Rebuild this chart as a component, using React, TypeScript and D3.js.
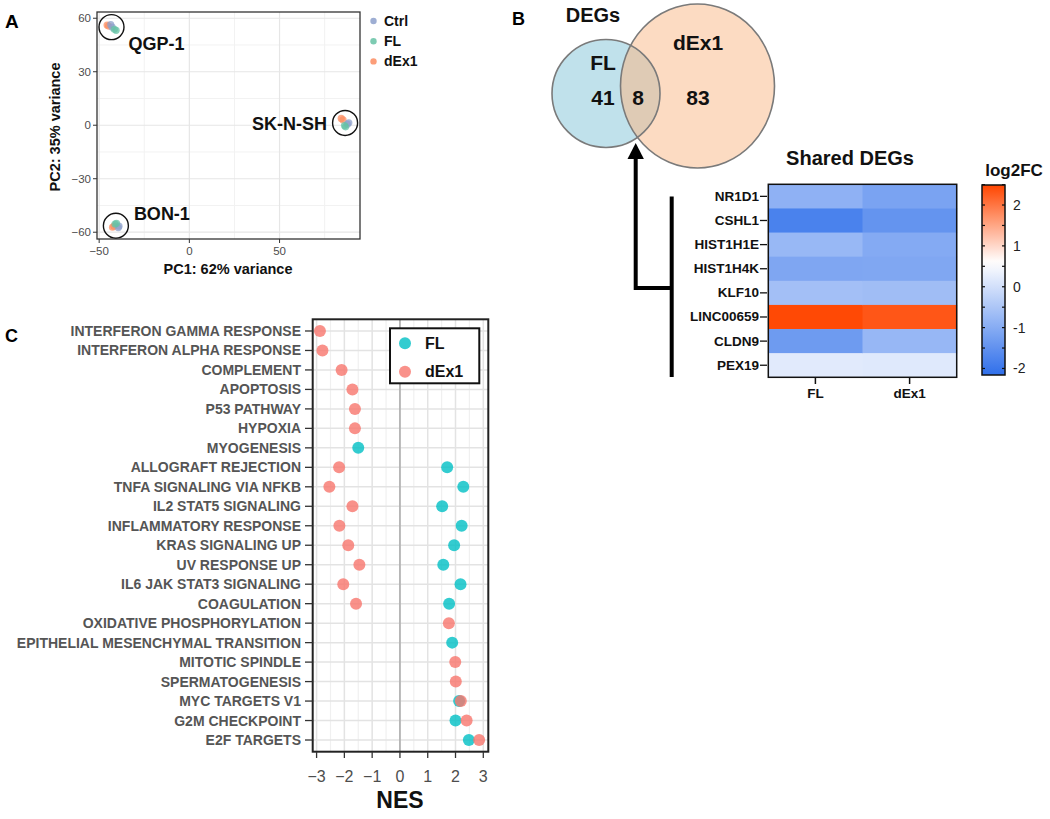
import React from "react";
import * as d3 from "d3";

// ---------- Panel A: PCA ----------
const pcaLines = ["QGP-1", "QGP-1", "QGP-1", "QGP-1", "QGP-1", "QGP-1", "SK-N-SH", "SK-N-SH", "SK-N-SH", "SK-N-SH", "SK-N-SH", "SK-N-SH", "BON-1", "BON-1", "BON-1", "BON-1", "BON-1", "BON-1"];
const pcaGroupOf = ["dEx1", "dEx1", "Ctrl", "Ctrl", "FL", "FL", "dEx1", "dEx1", "Ctrl", "Ctrl", "FL", "FL", "dEx1", "dEx1", "Ctrl", "Ctrl", "FL", "FL"];
const pcaPC1 = [-45.6, -44.8, -43.6, -42.8, -41.6, -40.6, 84.2, 85.2, 88.4, 87.6, 86.6, 86.0, -42.6, -41.8, -39.4, -39.0, -41.2, -40.4];
const pcaPC2 = [56.2, 55.6, 56.4, 55.0, 53.8, 53.2, 3.8, 3.0, 1.4, 0.6, -0.9, -0.2, -57.2, -56.6, -57.4, -56.6, -55.4, -55.0];
const pcaGroups = ["Ctrl", "FL", "dEx1"];
const pcaColors = ["#8da0cb", "#66c2a5", "#fc8d62"];
const pcaXTicks = [-50, 0, 50];
const pcaYTicks = [-60, -30, 0, 30, 60];

// ---------- Panel B: Venn + heatmap ----------
const vennSets = ["FL", "dEx1"];
const vennCounts = [41, 8, 83];
const heatGenes = ["NR1D1", "CSHL1", "HIST1H1E", "HIST1H4K", "KLF10", "LINC00659", "CLDN9", "PEX19"];
const heatConditions = ["FL", "dEx1"];
const heatFL = [-0.89, -1.8, -0.77, -1.1, -0.62, 2.45, -1.32, 0.2];
const heatDEx1 = [-1.17, -1.46, -1.03, -1.08, -0.66, 2.32, -0.78, 0.18];
const colorbarTicks = [2, 1, 0, -1, -2];

// ---------- Panel C: NES dot plot ----------
const pathways = [
  "INTERFERON GAMMA RESPONSE", "INTERFERON ALPHA RESPONSE", "COMPLEMENT", "APOPTOSIS", "P53 PATHWAY", "HYPOXIA",
  "MYOGENESIS", "ALLOGRAFT REJECTION", "TNFA SIGNALING VIA NFKB", "IL2 STAT5 SIGNALING", "INFLAMMATORY RESPONSE",
  "KRAS SIGNALING UP", "UV RESPONSE UP", "IL6 JAK STAT3 SIGNALING", "COAGULATION", "OXIDATIVE PHOSPHORYLATION",
  "EPITHELIAL MESENCHYMAL TRANSITION", "MITOTIC SPINDLE", "SPERMATOGENESIS", "MYC TARGETS V1", "G2M CHECKPOINT", "E2F TARGETS",
];
const nesFL: (number | null)[] = [null, null, null, null, null, null, -1.5, 1.7, 2.28, 1.52, 2.22, 1.95, 1.56, 2.18, 1.77, null, 1.88, null, null, 2.13, 2.0, 2.48];
const nesDEx1: (number | null)[] = [-2.88, -2.79, -2.1, -1.71, -1.62, -1.62, null, -2.19, -2.54, -1.71, -2.18, -1.86, -1.46, -2.04, -1.58, 1.76, null, 1.99, 2.01, 2.19, 2.4, 2.85];
const nesSeries = ["FL", "dEx1"];
const nesColors = ["#00bfc4", "#f8766d"];
const nesTicks = [-3, -2, -1, 0, 1, 2, 3];

const FONT = "'Liberation Sans', Arial, Helvetica, sans-serif";

function PanelA() {
  const x = d3.scaleLinear().domain([-51.2, 94.6]).range([97, 360]);
  const y = d3.scaleLinear().domain([-63.8, 63.5]).range([239, 12]);
  const color = d3.scaleOrdinal<string, string>().domain(pcaGroups).range(pcaColors);
  const xMinor = [-25, 25, 75];
  const yMinor = [-45, -15, 15, 45];
  const lines = Array.from(new Set(pcaLines));
  const centers = lines.map((l) => {
    const idx = pcaLines.map((v, i) => (v === l ? i : -1)).filter((i) => i >= 0);
    return { line: l, cx: x(d3.mean(idx, (i) => pcaPC1[i])!), cy: y(d3.mean(idx, (i) => pcaPC2[i])!) };
  });
  const labelOffset: Record<string, { dx: number; dy: number; anchor: string }> = {
    "QGP-1": { dx: 17, dy: 17, anchor: "start" },
    "SK-N-SH": { dx: -18, dy: 1, anchor: "end" },
    "BON-1": { dx: 18, dy: -12, anchor: "start" },
  };
  return (
    <g>
      <text x={5} y={21} fontSize={19} fontWeight="bold" dominantBaseline="central">A</text>
      <rect x={97} y={12} width={263} height={227} fill="#fff" />
      {xMinor.map((t) => <line key={"xm" + t} x1={x(t)} x2={x(t)} y1={12} y2={239} stroke="#f2f2f2" strokeWidth={1} />)}
      {yMinor.map((t) => <line key={"ym" + t} y1={y(t)} y2={y(t)} x1={97} x2={360} stroke="#f2f2f2" strokeWidth={1} />)}
      {pcaXTicks.map((t) => <line key={"xg" + t} x1={x(t)} x2={x(t)} y1={12} y2={239} stroke="#e6e6e6" strokeWidth={1.2} />)}
      {pcaYTicks.map((t) => <line key={"yg" + t} y1={y(t)} y2={y(t)} x1={97} x2={360} stroke="#e6e6e6" strokeWidth={1.2} />)}
      {pcaPC1.map((v, i) => (
        <circle key={"p" + i} cx={x(v)} cy={y(pcaPC2[i])} r={3.6} fill={color(pcaGroupOf[i])} opacity={0.75} />
      ))}
      {centers.map((c) => (
        <g key={c.line}>
          <circle cx={c.cx} cy={c.cy} r={12.5} fill="none" stroke="#111" strokeWidth={1.4} />
          <text x={c.cx + labelOffset[c.line].dx} y={c.cy + labelOffset[c.line].dy} fontSize={18} fontWeight="bold"
            textAnchor={labelOffset[c.line].anchor} dominantBaseline="central" fill="#111">{c.line}</text>
        </g>
      ))}
      <rect x={97} y={12} width={263} height={227} fill="none" stroke="#333" strokeWidth={1.3} />
      {pcaXTicks.map((t) => (
        <g key={"xt" + t}>
          <line x1={x(t)} x2={x(t)} y1={239} y2={243} stroke="#333" />
          <text x={x(t)} y={251} fontSize={11.5} fill="#4d4d4d" textAnchor="middle" dominantBaseline="central">{t < 0 ? "\u2212" + Math.abs(t) : t}</text>
        </g>
      ))}
      {pcaYTicks.map((t) => (
        <g key={"yt" + t}>
          <line x1={93} x2={97} y1={y(t)} y2={y(t)} stroke="#333" />
          <text x={91} y={y(t)} fontSize={11.5} fill="#4d4d4d" textAnchor="end" dominantBaseline="central">{t < 0 ? "\u2212" + Math.abs(t) : t}</text>
        </g>
      ))}
      <text x={228} y={269} fontSize={14.5} fontWeight="bold" textAnchor="middle" dominantBaseline="central" fill="#111">PC1: 62% variance</text>
      <text transform="translate(55,127) rotate(-90)" fontSize={14.5} fontWeight="bold" textAnchor="middle" dominantBaseline="central" fill="#111">PC2: 35% variance</text>
      {pcaGroups.map((g, i) => (
        <g key={"lg" + g}>
          <circle cx={373.5} cy={21 + i * 20.2} r={3.2} fill={pcaColors[i]} opacity={0.85} />
          <text x={384} y={21 + i * 20.2} fontSize={14} fontWeight="bold" dominantBaseline="central" fill="#111">{g}</text>
        </g>
      ))}
    </g>
  );
}

function PanelB() {
  const fl = { cx: 606, cy: 93.5, rx: 54, ry: 54 };
  const dx = { cx: 697.5, cy: 86, rx: 77, ry: 82 };
  const rowScale = d3.scaleBand<string>().domain(heatGenes).range([184.3, 377.3]);
  const colScale = d3.scaleBand<string>().domain(heatConditions).range([768.3, 956.7]);
  const cbY = d3.scaleLinear().domain([-2.16, 2.49]).range([375, 185]);
  const colorScale = d3.scaleLinear<string>().domain([-2.16, 0.6, 2.49]).range(["#2f6fea", "#ffffff", "#ff4500"]).clamp(true);
  const heatValues = [heatFL, heatDEx1];
  const gradStops = d3.range(0, 1.0001, 0.05);
  const cbHalf = d3.range(-2, 2.51, 0.5);
  return (
    <g>
      <text x={512} y={19} fontSize={18} fontWeight="bold" dominantBaseline="central">B</text>
      <text x={593} y={15} fontSize={20} fontWeight="bold" textAnchor="middle" dominantBaseline="central" fill="#111">DEGs</text>
      <defs>
        <clipPath id="flClip"><ellipse cx={fl.cx} cy={fl.cy} rx={fl.rx} ry={fl.ry} /></clipPath>
        <linearGradient id="cbGrad" x1="0" y1="1" x2="0" y2="0">
          {gradStops.map((s) => (
            <stop key={s} offset={s} stopColor={colorScale(-2.16 + s * (2.49 + 2.16))} />
          ))}
        </linearGradient>
      </defs>
      <ellipse cx={fl.cx} cy={fl.cy} rx={fl.rx} ry={fl.ry} fill="#c0e1eb" />
      <ellipse cx={dx.cx} cy={dx.cy} rx={dx.rx} ry={dx.ry} fill="#fcdbc2" />
      <ellipse cx={dx.cx} cy={dx.cy} rx={dx.rx} ry={dx.ry} fill="#dfcbb5" clipPath="url(#flClip)" />
      <ellipse cx={fl.cx} cy={fl.cy} rx={fl.rx} ry={fl.ry} fill="none" stroke="#7a7a7a" strokeWidth={1.6} />
      <ellipse cx={dx.cx} cy={dx.cy} rx={dx.rx} ry={dx.ry} fill="none" stroke="#7a7a7a" strokeWidth={1.6} />
      <text x={603} y={62} fontSize={21} fontWeight="bold" textAnchor="middle" dominantBaseline="central" fill="#111">{vennSets[0]}</text>
      <text x={698} y={42} fontSize={21} fontWeight="bold" textAnchor="middle" dominantBaseline="central" fill="#111">{vennSets[1]}</text>
      <text x={603} y={97} fontSize={21} fontWeight="bold" textAnchor="middle" dominantBaseline="central" fill="#111">{vennCounts[0]}</text>
      <text x={638} y={97} fontSize={21} fontWeight="bold" textAnchor="middle" dominantBaseline="central" fill="#111">{vennCounts[1]}</text>
      <text x={698} y={97} fontSize={21} fontWeight="bold" textAnchor="middle" dominantBaseline="central" fill="#111">{vennCounts[2]}</text>
      <path d="M671.7,288 H635.7 V157" fill="none" stroke="#000" strokeWidth={4} />
      <path d="M627.5,159 L635.7,143 L643.9,159 Z" fill="#000" />
      <line x1={671.7} x2={671.7} y1={196.5} y2={377} stroke="#000" strokeWidth={4} />
      <text x={850} y={158} fontSize={20} fontWeight="bold" textAnchor="middle" dominantBaseline="central" fill="#111">Shared DEGs</text>
      {heatConditions.map((c, ci) =>
        heatGenes.map((g, gi) => (
          <rect key={c + g} x={colScale(c)!} y={rowScale(g)!} width={colScale.bandwidth() + 0.5} height={rowScale.bandwidth() + 0.5}
            fill={colorScale(heatValues[ci][gi])} />
        ))
      )}
      <rect x={768.3} y={184.3} width={188.4} height={193} fill="none" stroke="#111" strokeWidth={1.5} />
      {heatGenes.map((g) => (
        <g key={"rl" + g}>
          <line x1={760} x2={767} y1={rowScale(g)! + rowScale.bandwidth() / 2} y2={rowScale(g)! + rowScale.bandwidth() / 2} stroke="#111" strokeWidth={1.3} />
          <text x={759} y={rowScale(g)! + rowScale.bandwidth() / 2} fontSize={13.5} fontWeight="bold" textAnchor="end" dominantBaseline="central" fill="#111">{g}</text>
        </g>
      ))}
      {heatConditions.map((c) => (
        <g key={"cl" + c}>
          <line x1={colScale(c)! + colScale.bandwidth() / 2} x2={colScale(c)! + colScale.bandwidth() / 2} y1={377} y2={384} stroke="#111" strokeWidth={1.5} />
          <text x={colScale(c)! + colScale.bandwidth() / 2} y={393} fontSize={13.5} fontWeight="bold" textAnchor="middle" dominantBaseline="central" fill="#111">{c}</text>
        </g>
      ))}
      <text x={1014} y={170} fontSize={17} fontWeight="bold" textAnchor="middle" dominantBaseline="central" fill="#111">log2FC</text>
      <rect x={982} y={185} width={23} height={190} fill="url(#cbGrad)" stroke="#111" strokeWidth={1.5} />
      {cbHalf.map((t) => (
        <g key={"cbt" + t}>
          <line x1={982} x2={985} y1={cbY(t)} y2={cbY(t)} stroke="#111" strokeWidth={1.2} />
          <line x1={1002} x2={1005} y1={cbY(t)} y2={cbY(t)} stroke="#111" strokeWidth={1.2} />
        </g>
      ))}
      {colorbarTicks.map((t) => (
        <text key={"cbl" + t} x={1013} y={cbY(t)} fontSize={14} textAnchor="start" dominantBaseline="central" fill="#222">{t}</text>
      ))}
    </g>
  );
}

function PanelC() {
  const x = d3.scaleLinear().domain([-3.14, 3.18]).range([312.7, 488.3]);
  const y = d3.scalePoint<string>().domain(pathways).range([319.3, 751.7]).padding(0.6);
  const minor = d3.range(-2.5, 3, 1);
  const series = [nesFL, nesDEx1];
  const fmt = (t: number) => (t < 0 ? "\u2212" + Math.abs(t) : String(t));
  return (
    <g>
      <text x={5} y={336} fontSize={18} fontWeight="bold" dominantBaseline="central">C</text>
      <rect x={312.7} y={319.3} width={175.6} height={432.4} fill="#fff" />
      {minor.map((t) => <line key={"m" + t} x1={x(t)} x2={x(t)} y1={319.3} y2={751.7} stroke="#f0f0f0" strokeWidth={1.2} />)}
      {nesTicks.map((t) => <line key={"g" + t} x1={x(t)} x2={x(t)} y1={319.3} y2={751.7} stroke="#e3e3e3" strokeWidth={1.5} />)}
      {pathways.map((p) => <line key={"h" + p} x1={312.7} x2={488.3} y1={y(p)!} y2={y(p)!} stroke="#e3e3e3" strokeWidth={1.5} />)}
      <line x1={x(0)} x2={x(0)} y1={319.3} y2={751.7} stroke="#aaaaaa" strokeWidth={1.5} />
      {series.map((vals, si) =>
        vals.map((v, i) =>
          v === null ? null : (
            <circle key={si + "-" + i} cx={x(v)} cy={y(pathways[i])!} r={6} fill={nesColors[si]} opacity={0.8} />
          )
        )
      )}
      <rect x={312.7} y={319.3} width={175.6} height={432.4} fill="none" stroke="#222" strokeWidth={2} />
      {pathways.map((p) => (
        <g key={"l" + p}>
          <line x1={305} x2={312.7} y1={y(p)!} y2={y(p)!} stroke="#333" strokeWidth={1.3} />
          <text x={301} y={y(p)!} fontSize={14} fontWeight="bold" fill="#555" textAnchor="end" dominantBaseline="central">{p}</text>
        </g>
      ))}
      {nesTicks.map((t) => (
        <g key={"xt" + t}>
          <line x1={x(t)} x2={x(t)} y1={751.7} y2={758} stroke="#333" strokeWidth={1.3} />
          <text x={x(t)} y={776} fontSize={16} fill="#4d4d4d" textAnchor="middle" dominantBaseline="central">{fmt(t)}</text>
        </g>
      ))}
      <text x={400} y={800} fontSize={23} fontWeight="bold" textAnchor="middle" dominantBaseline="central" fill="#111">NES</text>
      <rect x={390} y={328.3} width={89.3} height={55} fill="#fff" stroke="#111" strokeWidth={2} />
      {nesSeries.map((s, i) => (
        <g key={"lg" + s}>
          <circle cx={405} cy={343.3 + i * 28.4} r={6} fill={nesColors[i]} opacity={0.8} />
          <text x={425} y={343.3 + i * 28.4} fontSize={16} fontWeight="bold" dominantBaseline="central" fill="#111">{s}</text>
        </g>
      ))}
    </g>
  );
}

export default function App() {
  return (
    <svg width={1050} height={819} style={{ position: "absolute", left: 0, top: 0, background: "#fff" }} fontFamily={FONT}>
      <rect x={0} y={0} width={1050} height={819} fill="#fff" />
      <PanelA />
      <PanelB />
      <PanelC />
    </svg>
  );
}
